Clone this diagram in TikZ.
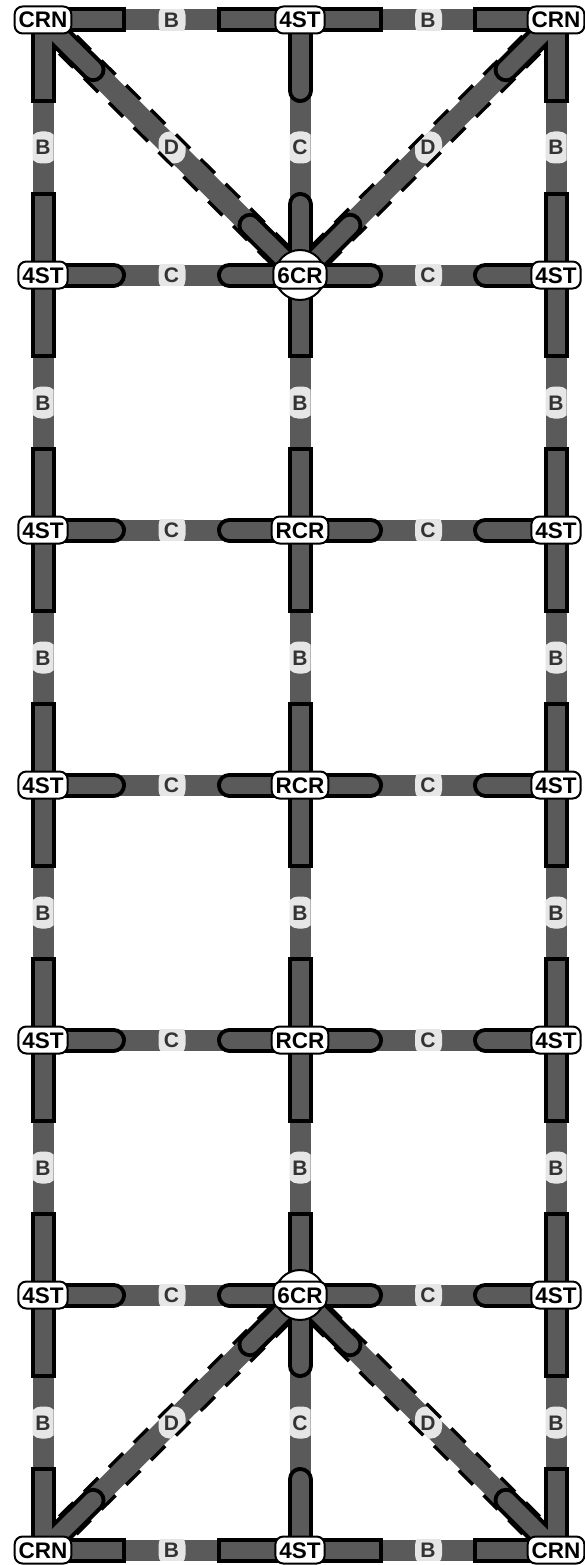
\documentclass[tikz,border=0pt]{standalone}
\usepackage{fontspec}
\setmainfont{Liberation Sans}
\usetikzlibrary{calc}
\definecolor{bandgray}{HTML}{5A5A5A}
\definecolor{badgebg}{HTML}{E6E6E6}
\definecolor{badgefg}{HTML}{333333}
\pgfdeclarelayer{dashl}
\pgfdeclarelayer{bandl}
\pgfdeclarelayer{badgel}
\pgfdeclarelayer{stubkl}
\pgfdeclarelayer{stubgl}
\pgfdeclarelayer{halol}
\pgfsetlayers{dashl,bandl,badgel,stubkl,stubgl,halol,main}
\tikzset{
  stn/.style={draw, line width=2pt, fill=white, rounded corners=8pt,
    inner xsep=4pt, inner ysep=0pt, minimum height=27pt,
    font=\bfseries\fontsize{22.5}{22.5}\selectfont, text height=16pt, text depth=0pt},
  bandln/.style={draw=bandgray, line width=21pt},
  stubblack/.style={draw=black, line width=25pt},
  stubgray/.style={draw=bandgray, line width=17pt},
  dashln/.style={draw=black, line width=28pt, dash pattern=on 20pt off 15pt},
  badgetxt/.style={inner sep=0pt, text=badgefg,
    font=\bfseries\fontsize{21}{21}\selectfont, text height=15pt, text depth=0pt},
}
\newcommand\EBand[2]{%
  \begin{pgfonlayer}{bandl}\draw[bandln] (#1.center) -- (#2.center);\end{pgfonlayer}}
\newcommand\EStubs[3]{%
  \begin{pgfonlayer}{stubkl}
    \draw[stubblack, line cap=#3] (#1.center) -- ($(#1.center)!70.5pt!(#2.center)$);
    \draw[stubblack, line cap=#3] (#2.center) -- ($(#2.center)!70.5pt!(#1.center)$);
  \end{pgfonlayer}
  \begin{pgfonlayer}{stubgl}
    \draw[stubgray, line cap=#3] (#1.center) -- ($(#1.center)!70.5pt!(#2.center)$);
    \draw[stubgray, line cap=#3] (#2.center) -- ($(#2.center)!70.5pt!(#1.center)$);
  \end{pgfonlayer}}
\newcommand\EBadge[4]{%
  \begin{pgfonlayer}{badgel}
    \coordinate (bm) at ($(#1.center)!0.5!(#2.center)$);
    \begin{scope}
      \clip[shift={(bm)}, rotate=#3] (-22,-10.5) rectangle (22,10.5);
      \fill[badgebg, rounded corners=11pt] ($(bm)+(-13,-16)$) rectangle ($(bm)+(14,16)$);
    \end{scope}
    \node[badgetxt] at (bm) {#4};
  \end{pgfonlayer}}
% B edge: square stubs; C edge: round stubs; D edge: round stubs + dashed outline
\newcommand\EdgeB[3]{\EBand{#1}{#2}\EStubs{#1}{#2}{rect}\EBadge{#1}{#2}{#3}{B}}
\newcommand\EdgeC[3]{\EBand{#1}{#2}\EStubs{#1}{#2}{round}\EBadge{#1}{#2}{#3}{C}}
\newcommand\EdgeD[3]{%
  \begin{pgfonlayer}{dashl}\draw[dashln] (#1.center) -- (#2.center);\end{pgfonlayer}
  \EBand{#1}{#2}\EStubs{#1}{#2}{round}\EBadge{#1}{#2}{#3}{D}}
\begin{document}
\begin{tikzpicture}[x=1pt, y=-1pt]
\useasboundingbox (0,0) rectangle (585,1565);
% nodes
\node[stn] (n00) at (43,20) {CRN};
\node[stn] (n01) at (300,20) {4ST};
\node[stn] (n02) at (556,20) {CRN};
\node[stn] (n10) at (43,275) {4ST};
\node[stn] (n11) at (300,275) {6CR};
\node[stn] (n12) at (556,275) {4ST};
\node[stn] (n20) at (43,530) {4ST};
\node[stn] (n21) at (300,530) {RCR};
\node[stn] (n22) at (556,530) {4ST};
\node[stn] (n30) at (43,785) {4ST};
\node[stn] (n31) at (300,785) {RCR};
\node[stn] (n32) at (556,785) {4ST};
\node[stn] (n40) at (43,1040) {4ST};
\node[stn] (n41) at (300,1040) {RCR};
\node[stn] (n42) at (556,1040) {4ST};
\node[stn] (n50) at (43,1295) {4ST};
\node[stn] (n51) at (300,1295) {6CR};
\node[stn] (n52) at (556,1295) {4ST};
\node[stn] (n60) at (43,1550) {CRN};
\node[stn] (n61) at (300,1550) {4ST};
\node[stn] (n62) at (556,1550) {CRN};
% halo circles behind 6CR
\begin{pgfonlayer}{halol}
  \draw[line width=2pt, fill=white] (n11.center) circle (25pt);
  \draw[line width=2pt, fill=white] (n51.center) circle (25pt);
\end{pgfonlayer}
% horizontal edges
\EdgeB{n00}{n01}{0}
\EdgeB{n01}{n02}{0}
\foreach \r in {1,...,5}{
  \EdgeC{n\r0}{n\r1}{0}
  \EdgeC{n\r1}{n\r2}{0}
}
\EdgeB{n60}{n61}{0}
\EdgeB{n61}{n62}{0}
% vertical edges, outer columns
\foreach \r/\s in {0/1,1/2,2/3,3/4,4/5,5/6}{
  \EdgeB{n\r0}{n\s0}{90}
  \EdgeB{n\r2}{n\s2}{90}
}
% middle column
\EdgeC{n01}{n11}{90}
\EdgeB{n11}{n21}{90}
\EdgeB{n21}{n31}{90}
\EdgeB{n31}{n41}{90}
\EdgeB{n41}{n51}{90}
\EdgeC{n51}{n61}{90}
% diagonals
\EdgeD{n00}{n11}{-45}
\EdgeD{n02}{n11}{45}
\EdgeD{n60}{n51}{45}
\EdgeD{n62}{n51}{-45}
\end{tikzpicture}
\end{document}
